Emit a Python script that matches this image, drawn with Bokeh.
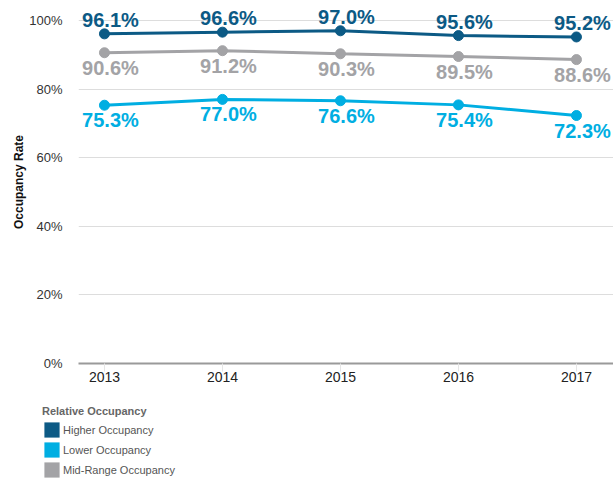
from bokeh.plotting import figure
from bokeh.layouts import column
from bokeh.models import (ColumnDataSource, LabelSet, Range1d, Legend, LegendItem,
                          FixedTicker, CustomJSTickFormatter)
from bokeh.embed import file_html
from bokeh.resources import INLINE
from bokeh.core.properties import value

years = [2013, 2014, 2015, 2016, 2017]
higher = [96.1, 96.6, 97.0, 95.6, 95.2]
mid = [90.6, 91.2, 90.3, 89.5, 88.6]
lower = [75.3, 77.0, 76.6, 75.4, 72.3]
y_ticks = [0, 20, 40, 60, 80, 100]
series_names = ["Higher Occupancy", "Lower Occupancy", "Mid-Range Occupancy"]

c_high = "#0c5a85"
c_low = "#00aee2"
c_mid = "#a3a3a6"

p = figure(frame_width=535, frame_height=363, output_backend="svg", toolbar_location=None,
           x_range=Range1d(2012.78, 2017.314), y_range=Range1d(0, 105.83),
           min_border_left=78, min_border_right=0, min_border_top=0, min_border_bottom=27)
p.outline_line_color = None
p.background_fill_color = "white"
p.frame_align = False

# axes
p.yaxis.ticker = FixedTicker(ticks=y_ticks)
p.yaxis.formatter = CustomJSTickFormatter(code="return tick + '%'")
p.yaxis.axis_line_color = None
p.yaxis.major_tick_line_color = None
p.yaxis.minor_tick_line_color = None
p.yaxis.major_label_text_font = "Liberation Sans"
p.yaxis.major_label_text_font_size = "13px"
p.yaxis.major_label_text_color = "#333333"
p.yaxis.major_label_standoff = 10
p.yaxis.axis_label = "Occupancy Rate"
p.yaxis.axis_label_text_font = "Liberation Sans"
p.yaxis.axis_label_text_font_style = "bold"
p.yaxis.axis_label_text_font_size = "12px"
p.yaxis.axis_label_text_color = "#111111"
p.yaxis.axis_label_standoff = 0

p.xaxis.ticker = FixedTicker(ticks=years)
p.xaxis.axis_line_color = "#9a9a9a"
p.xaxis.axis_line_width = 2
p.xaxis.major_tick_line_color = "#e6e6e6"
p.xaxis.major_tick_in = 0
p.xaxis.major_tick_out = 8
p.xaxis.minor_tick_line_color = None
p.xaxis.major_label_text_font = "Liberation Sans"
p.xaxis.major_label_text_font_size = "14px"
p.xaxis.major_label_text_color = "#222222"
p.xaxis.major_label_standoff = 0

p.xgrid.grid_line_color = None
p.ygrid.ticker = FixedTicker(ticks=y_ticks[1:])
p.ygrid.grid_line_color = "#dddddd"
p.ygrid.grid_line_width = 1

src = ColumnDataSource(dict(
    x=years, high=higher, mid=mid, low=lower,
    high_t=[f"{v:.1f}%" for v in higher],
    mid_t=[f"{v:.1f}%" for v in mid],
    low_t=[f"{v:.1f}%" for v in lower],
))

for col, c in (("low", c_low), ("mid", c_mid), ("high", c_high)):
    p.line("x", col, source=src, line_color=c, line_width=3)
    p.scatter("x", col, source=src, size=10, fill_color=c, line_color=c)

font = value("Liberation Sans")
for col, c, off in (("high", c_high, 14), ("mid", c_mid, -15), ("low", c_low, -15)):
    ls = LabelSet(x="x", y=col, text=col + "_t", source=src, x_offset=6, y_offset=off,
                  text_align="center", text_baseline="middle", text_font=font,
                  text_font_style="bold", text_font_size="20px", text_color=c)
    p.add_layout(ls)

# legend in its own panel below the chart
lf = figure(width=613, height=89, output_backend="svg", toolbar_location=None,
            x_axis_type=None, y_axis_type=None, x_range=Range1d(0, 1), y_range=Range1d(0, 1),
            min_border_left=0, min_border_right=0, min_border_top=0, min_border_bottom=0)
lf.outline_line_color = None
lf.xgrid.grid_line_color = None
lf.ygrid.grid_line_color = None
lf.frame_align = False
swatch_src = ColumnDataSource(dict(z=[0, 0, 0], color=[c_high, c_low, c_mid]))
swatch = lf.quad(left="z", right="z", top="z", bottom="z", source=swatch_src,
                 fill_color="color", line_color=None)
legend = Legend(items=[LegendItem(label=n, renderers=[swatch], index=i)
                       for i, n in enumerate(series_names)],
                location=(42, 0), orientation="vertical",
                title="Relative Occupancy", title_text_font="Liberation Sans",
                title_text_font_style="bold", title_text_font_size="11px",
                title_text_color="#666666", title_standoff=3,
                label_text_font="Liberation Sans", label_text_font_size="11px",
                label_text_color="#555555", label_standoff=2,
                glyph_width=19, glyph_height=19, label_height=19, spacing=1,
                padding=0, margin=0, background_fill_alpha=0, border_line_color=None)
lf.add_layout(legend, "center")

open("out.html", "w").write(file_html(column(p, lf), INLINE))
